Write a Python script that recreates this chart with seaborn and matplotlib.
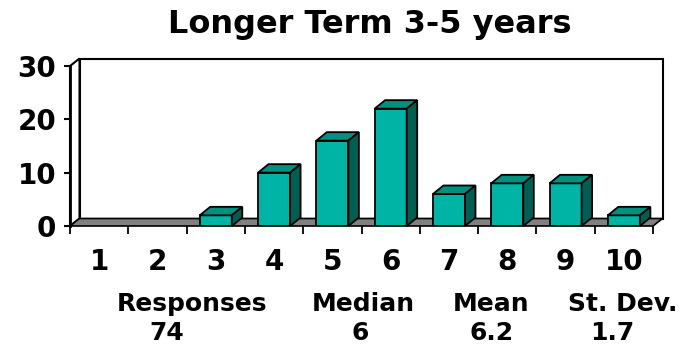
import numpy as np
import pandas as pd
import matplotlib
matplotlib.use("Agg")
import matplotlib.pyplot as plt
import seaborn as sns
from matplotlib.patches import Polygon

# Survey scores and how many responses each received
scores = ["1", "2", "3", "4", "5", "6", "7", "8", "9", "10"]
counts = [0, 0, 2, 10, 16, 22, 6, 8, 8, 2]
y_ticks = [0, 10, 20, 30]
title = "Longer Term 3-5 years"
stat_names = ["Responses", "Median", "Mean", "St. Dev."]

# Summary statistics of the response distribution
responses = np.repeat(np.arange(1, len(scores) + 1), counts)
stat_values = [
    f"{responses.size}",
    f"{np.median(responses):g}",
    f"{responses.mean():.1f}",
    f"{responses.std(ddof=1):.1f}",
]

FRONT = "#00B4A5"
TOP = "#00907F"
SIDE = "#005F52"
FLOOR = "#808080"

sns.set_theme(style="white")
plt.rcParams["font.family"] = ["DejaVu Sans"]
plt.rcParams["font.weight"] = "bold"
plt.rcParams["text.color"] = "black"
plt.rcParams["xtick.color"] = "black"
plt.rcParams["ytick.color"] = "black"

W, H, DPI = 681, 348, 100
fig = plt.figure(figsize=(W / DPI, H / DPI), dpi=DPI)
fig.patch.set_facecolor("white")
ax = fig.add_axes([70 / W, 1 - 226 / H, 583 / W, 160 / H])
ax.patch.set_alpha(0)

df = pd.DataFrame({"score": scores, "count": counts})
sns.barplot(data=df, x="score", y="count", order=scores, color=FRONT,
            saturation=1, width=0.55, edgecolor="black", linewidth=1.3,
            ax=ax, zorder=6)
bars = list(ax.patches)

ax.set_xlim(-0.5, len(scores) - 0.5)
ax.set_ylim(y_ticks[0], y_ticks[-1])

# pixel -> data conversion for the oblique depth of the 3-D look
x0d, y0d = ax.transData.transform((0, 0))
x1d, y1d = ax.transData.transform((1, 1))
ux, uy = 1.0 / (x1d - x0d), 1.0 / (y1d - y0d)
wdx, wdy = 9.5 * ux, 7.5 * uy     # walls / floor depth
bdx, bdy = 10.5 * ux, 8.5 * uy    # column depth

xl, xr = ax.get_xlim()
yb, yt = ax.get_ylim()


def poly(pts, fc, z, lw=1.3, ec="black"):
    ax.add_patch(Polygon(pts, closed=True, facecolor=fc, edgecolor=ec,
                         linewidth=lw, zorder=z, clip_on=False,
                         joinstyle="miter"))


# back wall, side wall and floor
poly([(xl + wdx, yb + wdy), (xr + wdx, yb + wdy), (xr + wdx, yt + wdy),
      (xl + wdx, yt + wdy)], "white", 1, lw=1.5)
poly([(xl, yb), (xl, yt), (xl + wdx, yt + wdy), (xl + wdx, yb + wdy)],
     "white", 1.5, lw=1.5)
poly([(xl, yb), (xr, yb), (xr + wdx, yb + wdy), (xl + wdx, yb + wdy)],
     FLOOR, 2, lw=1.2)

# top and side faces of every column
for patch in bars:
    h = patch.get_height()
    if h <= 0:
        patch.set_visible(False)
        continue
    x0 = patch.get_x()
    w = patch.get_width()
    poly([(x0, h), (x0 + w, h), (x0 + w + bdx, h + bdy), (x0 + bdx, h + bdy)],
         TOP, 7)
    poly([(x0 + w, 0), (x0 + w + bdx, bdy), (x0 + w + bdx, h + bdy),
          (x0 + w, h)], SIDE, 7)

# axes styling
for side in ["top", "right", "bottom"]:
    ax.spines[side].set_visible(False)
ax.spines["left"].set_linewidth(2.0)
ax.spines["left"].set_color("black")
ax.spines["left"].set_zorder(8)

ax.set_yticks(y_ticks)
ax.set_yticklabels([str(v) for v in y_ticks], fontsize=20, fontweight="bold")
ax.tick_params(axis="y", direction="out", length=4, width=1.5, pad=6,
               colors="black", left=True)

ax.set_xticks(range(len(scores)))
ax.set_xticklabels(scores, fontsize=20, fontweight="bold")
ax.set_xticks(np.arange(len(scores) + 1) - 0.5, minor=True)
ax.tick_params(axis="x", which="major", length=0, pad=16, colors="black")
ax.tick_params(axis="x", which="minor", direction="out", length=6,
               width=1.3, colors="black", bottom=True)
ax.set_xlabel("")
ax.set_ylabel("")

fig.text(370 / W, 1 - 25 / H, title, ha="center", va="center",
         fontsize=23, fontweight="bold", color="black")

name_x = [192, 363, 491, 623]
value_x = [167, 360, 492, 612]
for nx, vx, name, val in zip(name_x, value_x, stat_names, stat_values):
    fig.text(nx / W, 1 - 304 / H, name, ha="center", va="center",
             fontsize=18, fontweight="bold", color="black")
    fig.text(vx / W, 1 - 333 / H, val, ha="center", va="center",
             fontsize=18, fontweight="bold", color="black")

fig.savefig("out.png", dpi=DPI, facecolor="white")
